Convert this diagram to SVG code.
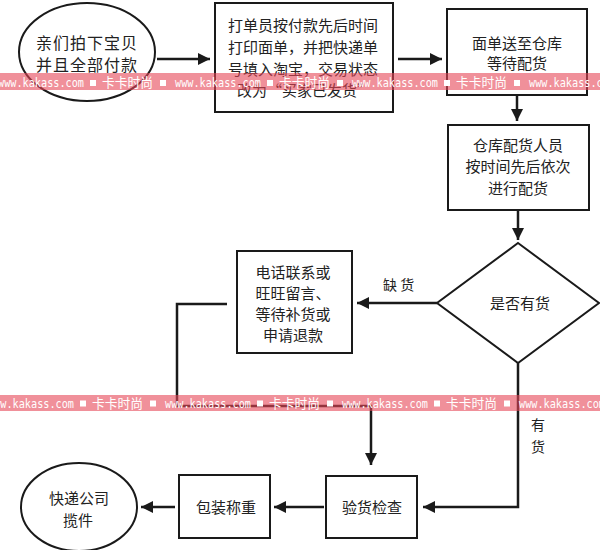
<svg xmlns="http://www.w3.org/2000/svg" xmlns:xlink="http://www.w3.org/1999/xlink" width="600" height="550" viewBox="0 0 600 550">
<style>
.shape{fill:#fff;stroke:#1a1a1a;stroke-width:2}
.t{font-family:"Noto Sans CJK SC","Noto Sans",sans-serif;font-size:15px;fill:#222}
.c{text-anchor:middle}
.conn{fill:none;stroke:#1a1a1a;stroke-width:2.5}
.band{fill:rgb(230,70,87);fill-opacity:0.6}
.wml{font-family:"DejaVu Sans Mono",monospace;font-size:13px;fill:#fff}
.wmc{font-family:"Noto Sans CJK SC",sans-serif;font-size:13px;fill:#fff}
.wms{fill:#fff}
</style>
<defs>
<marker id="ah" markerUnits="userSpaceOnUse" markerWidth="13" markerHeight="13" refX="12" refY="6" orient="auto">
<path d="M0,0 L12,6 L0,12 z" fill="#1a1a1a"/>
</marker>
<g id="wmu">
<text class="wml" x="0" y="0" textLength="86" lengthAdjust="spacingAndGlyphs">www.kakass.com</text>
<rect class="wms" x="92" y="-7" width="6" height="6"/>
<text class="wmc" x="104" y="0" textLength="51" lengthAdjust="spacingAndGlyphs">卡卡时尚</text>
<rect class="wms" x="162" y="-7" width="6" height="6"/>
</g>
</defs>
<rect width="600" height="550" fill="#fff"/>

<g id="connectors">
<line class="conn" x1="157" y1="59" x2="210" y2="59" marker-end="url(#ah)"/>
<line class="conn" x1="398" y1="59" x2="442" y2="59" marker-end="url(#ah)"/>
<line class="conn" x1="517" y1="95" x2="517" y2="121" marker-end="url(#ah)"/>
<line class="conn" x1="518" y1="210" x2="518" y2="240" marker-end="url(#ah)"/>
<line class="conn" x1="437" y1="303" x2="357" y2="303" marker-end="url(#ah)"/>
<polyline class="conn" points="227,304 177,304 177,406 371,406 371,465" marker-end="url(#ah)"/>
<polyline class="conn" points="518,363 518,507 423,507" marker-end="url(#ah)"/>
<line class="conn" x1="324" y1="507" x2="274" y2="507" marker-end="url(#ah)"/>
<line class="conn" x1="175" y1="507" x2="141" y2="507" marker-end="url(#ah)"/>
<text class="t" x="383" y="290" font-size="14" style="font-size:14px">缺 货</text>
<text class="t c" x="538" y="430" style="font-size:14px">有</text>
<text class="t c" x="538" y="452" style="font-size:14px">货</text>
</g>

<g id="n1">
<ellipse class="shape" cx="87" cy="52" rx="68" ry="49"/>
<text class="t c" x="87" y="49" style="font-size:16px;letter-spacing:1px">亲们拍下宝贝</text>
<text class="t c" x="87" y="71" style="font-size:16px;letter-spacing:1px">并且全部付款</text>
</g>

<g id="n2">
<rect class="shape" x="215" y="3" width="178" height="109"/>
<text class="t" x="228" y="31">打单员按付款先后时间</text>
<text class="t" x="228" y="53">打印面单，并把快递单</text>
<text class="t" x="228" y="75">号填入淘宝，交易状态</text>
<text class="t" x="237" y="96">改为“买家已发货”</text>
</g>

<g id="n3">
<rect class="shape" x="447" y="9" width="140" height="86"/>
<text class="t c" x="517" y="48.5">面单送至仓库</text>
<text class="t c" x="517" y="68.5">等待配货</text>
</g>

<g id="n4">
<rect class="shape" x="448" y="125" width="141" height="85"/>
<text class="t c" x="518" y="151">仓库配货人员</text>
<text class="t c" x="518" y="172">按时间先后依次</text>
<text class="t c" x="518" y="194">进行配货</text>
</g>

<g id="n5">
<polygon class="shape" points="518,243 599,303 518,363 437,303"/>
<text class="t c" x="520" y="309">是否有货</text>
</g>

<g id="n6">
<rect class="shape" x="237" y="251" width="115" height="102"/>
<text class="t c" x="293" y="277.5">电话联系或</text>
<text class="t c" x="293" y="298.5">旺旺留言、</text>
<text class="t c" x="293" y="319.5">等待补货或</text>
<text class="t c" x="293" y="340.5">申请退款</text>
</g>

<g id="n7">
<rect class="shape" x="326" y="476" width="91" height="62"/>
<text class="t c" x="372" y="512.5">验货检查</text>
</g>

<g id="n8">
<rect class="shape" x="179" y="475" width="91" height="63"/>
<text class="t c" x="226" y="512.5">包装称重</text>
</g>

<g id="n9">
<ellipse class="shape" cx="79" cy="507" rx="58" ry="44"/>
<text class="t c" x="79" y="503.5">快递公司</text>
<text class="t c" x="78" y="525.5">揽件</text>
</g>

<g id="watermark">
<rect class="band" x="0" y="73" width="600" height="17"/>
<use xlink:href="#wmu" href="#wmu" x="-2" y="87"/>
<use xlink:href="#wmu" href="#wmu" x="175" y="87"/>
<use xlink:href="#wmu" href="#wmu" x="352" y="87"/>
<use xlink:href="#wmu" href="#wmu" x="529" y="87"/>
<rect class="band" x="0" y="395" width="600" height="16"/>
<use xlink:href="#wmu" href="#wmu" x="-12" y="407.5"/>
<use xlink:href="#wmu" href="#wmu" x="165" y="407.5"/>
<use xlink:href="#wmu" href="#wmu" x="342" y="407.5"/>
<use xlink:href="#wmu" href="#wmu" x="519" y="407.5"/>
</g>
</svg>
